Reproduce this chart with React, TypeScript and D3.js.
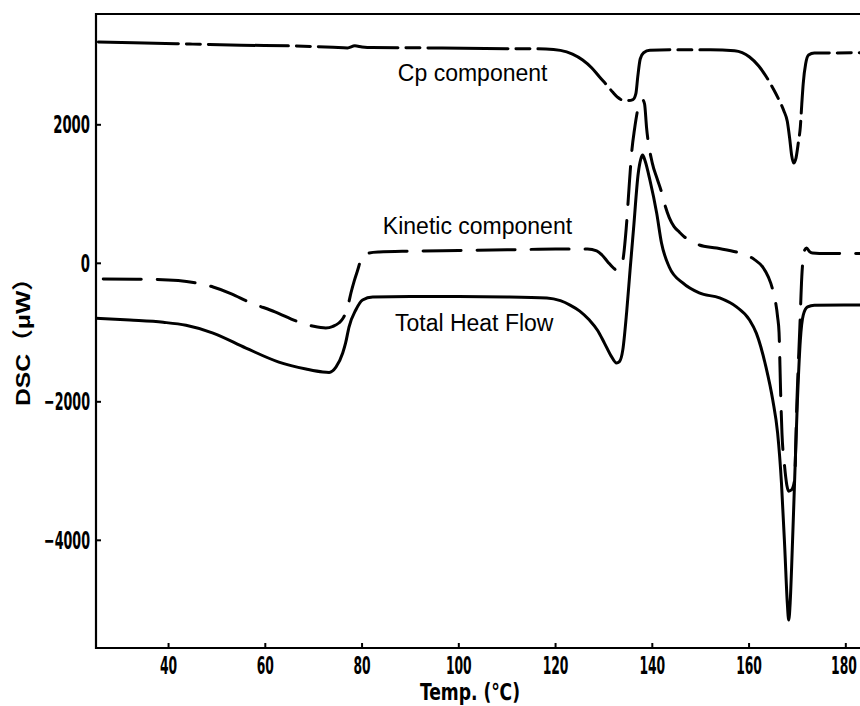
import React from "react";
import * as d3 from "d3";

const cpTemp = [25.5, 35, 45, 55, 66, 74, 77, 78.5, 80, 82, 95, 110, 118, 121, 123.5, 125.6, 127.5, 129.1, 130.5, 131.8, 132.8, 133.7, 135, 136.0, 136.6, 137.0, 137.5, 138.2, 139.5, 145, 152, 157, 160.1, 162, 163.6, 165, 166.2, 167.2, 167.9, 168.4, 168.8, 169.2, 169.7, 170.2, 170.6, 170.9, 171.2, 171.7, 172.3, 173.5, 185];
const cpValues = [3196, 3180, 3165, 3150, 3138, 3120, 3110, 3140, 3125, 3115, 3110, 3100, 3095, 3075, 3020, 2935, 2820, 2690, 2580, 2473, 2400, 2360, 2350, 2365, 2450, 2700, 2950, 3040, 3075, 3085, 3085, 3070, 2980, 2850, 2690, 2520, 2358, 2200, 2050, 1800, 1560, 1447, 1520, 1750, 1970, 2300, 2600, 2880, 3007, 3036, 3040];

const kineticTemp = [26.5, 35, 42, 45.7, 49.2, 53, 56.6, 62, 66.9, 70, 72.5, 74, 75.2, 76, 76.6, 77.2, 77.7, 78.4, 79.1, 79.8, 80.4, 81.5, 83.5, 90, 100, 110, 120, 126.6, 128.5, 129.6, 130.8, 132, 132.6, 133.3, 133.9, 134.6, 135.3, 135.8, 136.3, 137.0, 137.6, 138.0, 138.4, 138.8, 140, 141.0, 141.9, 142.7, 143.5, 144.5, 145.6, 146.5, 147.5, 149.7, 153.3, 158, 161, 162.8, 164, 164.9, 165.9, 166.2, 166.5, 166.8, 167.3, 167.8, 168.2, 168.8, 169.4, 169.9, 170.5, 170.9, 171.5, 171.9, 172.5, 173.1, 176, 185];
const kineticValues = [-227, -230, -250, -285, -342, -440, -559, -700, -847, -910, -934, -910, -862, -800, -718, -580, -429, -250, -97, 60, 120, 150, 163, 175, 185, 195, 205, 205, 180, 120, 20, -70, -97, -60, 40, 500, 1203, 1650, 1924, 2220, 2345, 2360, 2300, 1968, 1447, 1220, 1030, 820, 660, 530, 450, 390, 335, 265, 220, 149, 60, -53, -200, -385, -775, -1000, -1800, -2450, -2900, -3200, -3290, -3270, -3130, -1975, -920, -195, 192, 220, 170, 149, 140, 145];

const totalTemp = [25, 32, 38.9, 43.6, 49.2, 56, 62.8, 68.4, 71.9, 73.2, 74.6, 76, 76.6, 77.3, 78.7, 80.1, 82.2, 90, 100, 110, 118.2, 121, 123, 125, 127, 128.7, 130.1, 131.5, 132.6, 133.2, 133.9, 134.7, 135.4, 136.1, 137.1, 137.6, 138, 138.5, 139.5, 140.9, 141.9, 143.5, 146.3, 149.7, 153.9, 157.4, 160.1, 161.5, 163.5, 164.9, 165.9, 166.7, 167.4, 167.9, 168.2, 168.5, 168.8, 169.4, 170.0, 170.6, 171.2, 172.1, 173.5, 185];
const totalValues = [-794, -820, -852, -895, -1007, -1224, -1426, -1527, -1570, -1575, -1500, -1296, -1150, -920, -674, -530, -487, -480, -480, -485, -500, -540, -603, -690, -820, -970, -1152, -1340, -1440, -1420, -1250, -700, -100, 481, 1304, 1500, 1563, 1480, 1203, 726, 293, -53, -284, -428, -500, -630, -818, -1008, -1499, -1975, -2450, -3174, -4141, -4900, -5152, -4900, -4386, -3174, -1975, -1108, -747, -630, -605, -603];

const xTicks = [40, 60, 80, 100, 120, 140, 160, 180];
const yTicks = [-4000, -2000, 0, 2000];
const seriesLabels = ["Cp component", "Kinetic component", "Total Heat Flow"];
const xTitle = "Temp. (℃)";
const yTitle = "DSC（μW）";

const W = 860;
const H = 706;
const left = 96;
const top = 14;
const bottom = 648;
const right = 870;

export default function App() {
  const x = d3.scaleLinear().domain([25, 185]).range([left, right]);
  const y = d3.scaleLinear().domain([-5555, 3600]).range([bottom, top]);
  const line = d3
    .line<[number, number]>()
    .x((d) => x(d[0]))
    .y((d) => y(d[1]))
    .curve(d3.curveMonotoneX);
  const zip = (a: number[], b: number[]) => a.map((t, i) => [t, b[i]] as [number, number]);

  const cpPath = line(zip(cpTemp, cpValues)) || "";
  const kinPath = line(zip(kineticTemp, kineticValues)) || "";
  const totPath = line(zip(totalTemp, totalValues)) || "";

  const tickFont = "'Liberation Sans Narrow', 'Arial Narrow', 'DejaVu Sans Condensed', sans-serif";
  const labelFont = "'Liberation Sans', Arial, 'Noto Sans CJK JP', sans-serif";

  return (
    <svg
      width={W}
      height={H}
      style={{ position: "absolute", left: 0, top: 0, background: "#fff" }}
    >
      <defs>
        <clipPath id="plotclip">
          <rect x={left} y={top} width={right - left} height={bottom - top} />
        </clipPath>
      </defs>
      <rect x={0} y={0} width={W} height={H} fill="#fff" />
      <g clipPath="url(#plotclip)" fill="none" stroke="#000" strokeWidth={3} strokeLinecap="round">
        <path d={cpPath} strokeDasharray="80 8 14 8" />
        <path d={kinPath} strokeDasharray="38 16" />
        <path d={totPath} />
      </g>
      <path
        d={`M${right},${top} H${left} V${bottom} H${right}`}
        fill="none"
        stroke="#000"
        strokeWidth={2.2}
      />
      {yTicks.map((t) => (
        <g key={"y" + t}>
          <line x1={left} x2={left + 5} y1={y(t)} y2={y(t)} stroke="#000" strokeWidth={2} />
          <text
            x={90}
            y={y(t)}
            textAnchor="end"
            dominantBaseline="central"
            fontFamily={tickFont}
            fontWeight="bold"
            fontSize={25}
            textLength={String(t).length * 9.2}
            lengthAdjust="spacingAndGlyphs"
          >
            {t < 0 ? "\u2212" + Math.abs(t) : String(t)}
          </text>
        </g>
      ))}
      {xTicks.map((t) => (
        <g key={"x" + t}>
          <line x1={x(t)} x2={x(t)} y1={bottom} y2={bottom - 5} stroke="#000" strokeWidth={2} />
          <text
            x={Math.min(x(t), 844)}
            y={674}
            textAnchor="middle"
            fontFamily={tickFont}
            fontWeight="bold"
            fontSize={25}
            textLength={String(t).length * 8.6}
            lengthAdjust="spacingAndGlyphs"
          >
            {t}
          </text>
        </g>
      ))}
      <text
        x={470}
        y={700}
        textAnchor="middle"
        fontFamily={tickFont}
        fontWeight="bold"
        fontSize={23}
        textLength={100}
        lengthAdjust="spacingAndGlyphs"
      >
        {xTitle}
      </text>
      <text
        transform={`translate(30,336) rotate(-90)`}
        textAnchor="middle"
        fontFamily={labelFont}
        fontWeight="bold"
        fontSize={21}
        textLength={140}
        lengthAdjust="spacingAndGlyphs"
      >
        {yTitle}
      </text>
      <g fontFamily={labelFont} fontSize={23} fill="#000">
        <text x={x(87.4)} y={y(2632)}>{seriesLabels[0]}</text>
        <text x={x(84.3)} y={y(423)}>{seriesLabels[1]}</text>
        <text x={x(86.8)} y={y(-978)}>{seriesLabels[2]}</text>
      </g>
    </svg>
  );
}
